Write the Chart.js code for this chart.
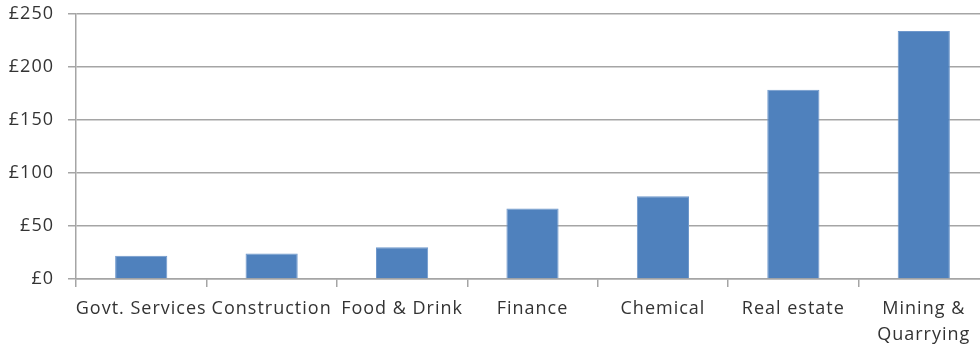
<!DOCTYPE html>
<html>
<head>
<meta charset="utf-8">
<script src="https://cdn.jsdelivr.net/npm/chart.js@4"></script>
<style>
    html, body { margin: 0; padding: 0; background: #fff; overflow: hidden; }
    #wrap { width: 990px; height: 347px; }
</style>
</head>
<body>
<div id="wrap"><canvas id="sectorChart"></canvas></div>
<script>
// sectors and amounts (£)
const sectors = ['Govt. Services', 'Construction', 'Food & Drink', 'Finance', 'Chemical', 'Real estate', ['Mining &', 'Quarrying']];
const amounts = [22, 24, 30, 66.5, 78, 178.5, 234];
const yTicks = [0, 50, 100, 150, 200, 250];

const gridGrey = '#a5a5a5';
const textColor = '#333';
const labelFont = { family: 'Open Sans', size: 18, lineHeight: 1.45 };

// wider letter spacing for the axis text
const spacing = {
    id: 'spacing',
    beforeUpdate(chart) { chart.ctx.letterSpacing = '1px'; },
    beforeDraw(chart) { chart.ctx.letterSpacing = '1px'; }
};

const ctx = document.getElementById('sectorChart').getContext('2d');

const chart = new Chart(ctx, {
    type: 'bar',
    data: {
        labels: sectors,
        datasets: [{
            data: amounts,
            backgroundColor: '#4f81bd',
            borderColor: '#6f98cc',
            borderWidth: 1,
            barPercentage: 0.4,
            categoryPercentage: 1.0
        }]
    },
    options: {
        responsive: true,
        maintainAspectRatio: false,
        animation: false,
        layout: { padding: { top: 14, left: 0, right: 1, bottom: 0 } },
        plugins: {
            legend: { display: false },
            tooltip: { enabled: false }
        },
        scales: {
            x: {
                afterFit: axis => {
                    axis.height = 68;
                    axis.paddingLeft = 0;
                    axis.paddingRight = 0;
                },
                grid: {
                    drawOnChartArea: false,
                    drawTicks: true,
                    tickLength: 8,
                    color: gridGrey,
                    lineWidth: 1.5,
                    offset: true
                },
                border: { color: gridGrey, width: 1.5 },
                ticks: {
                    color: textColor,
                    font: labelFont,
                    maxRotation: 0,
                    autoSkip: false,
                    padding: 9
                }
            },
            y: {
                min: 0,
                max: 250,
                afterFit: axis => {
                    axis.width = 76;
                    axis.paddingTop = 0;
                    axis.paddingBottom = 0;
                },
                afterBuildTicks: axis => {
                    axis.ticks = yTicks.map(v => ({ value: v }));
                },
                grid: {
                    color: gridGrey,
                    tickLength: 8,
                    lineWidth: 1.5
                },
                border: { color: gridGrey, width: 1.5 },
                ticks: {
                    color: textColor,
                    font: labelFont,
                    padding: 14,
                    callback: v => '£' + v
                }
            }
        }
    },
    plugins: [spacing]
});
</script>
</body>
</html>
